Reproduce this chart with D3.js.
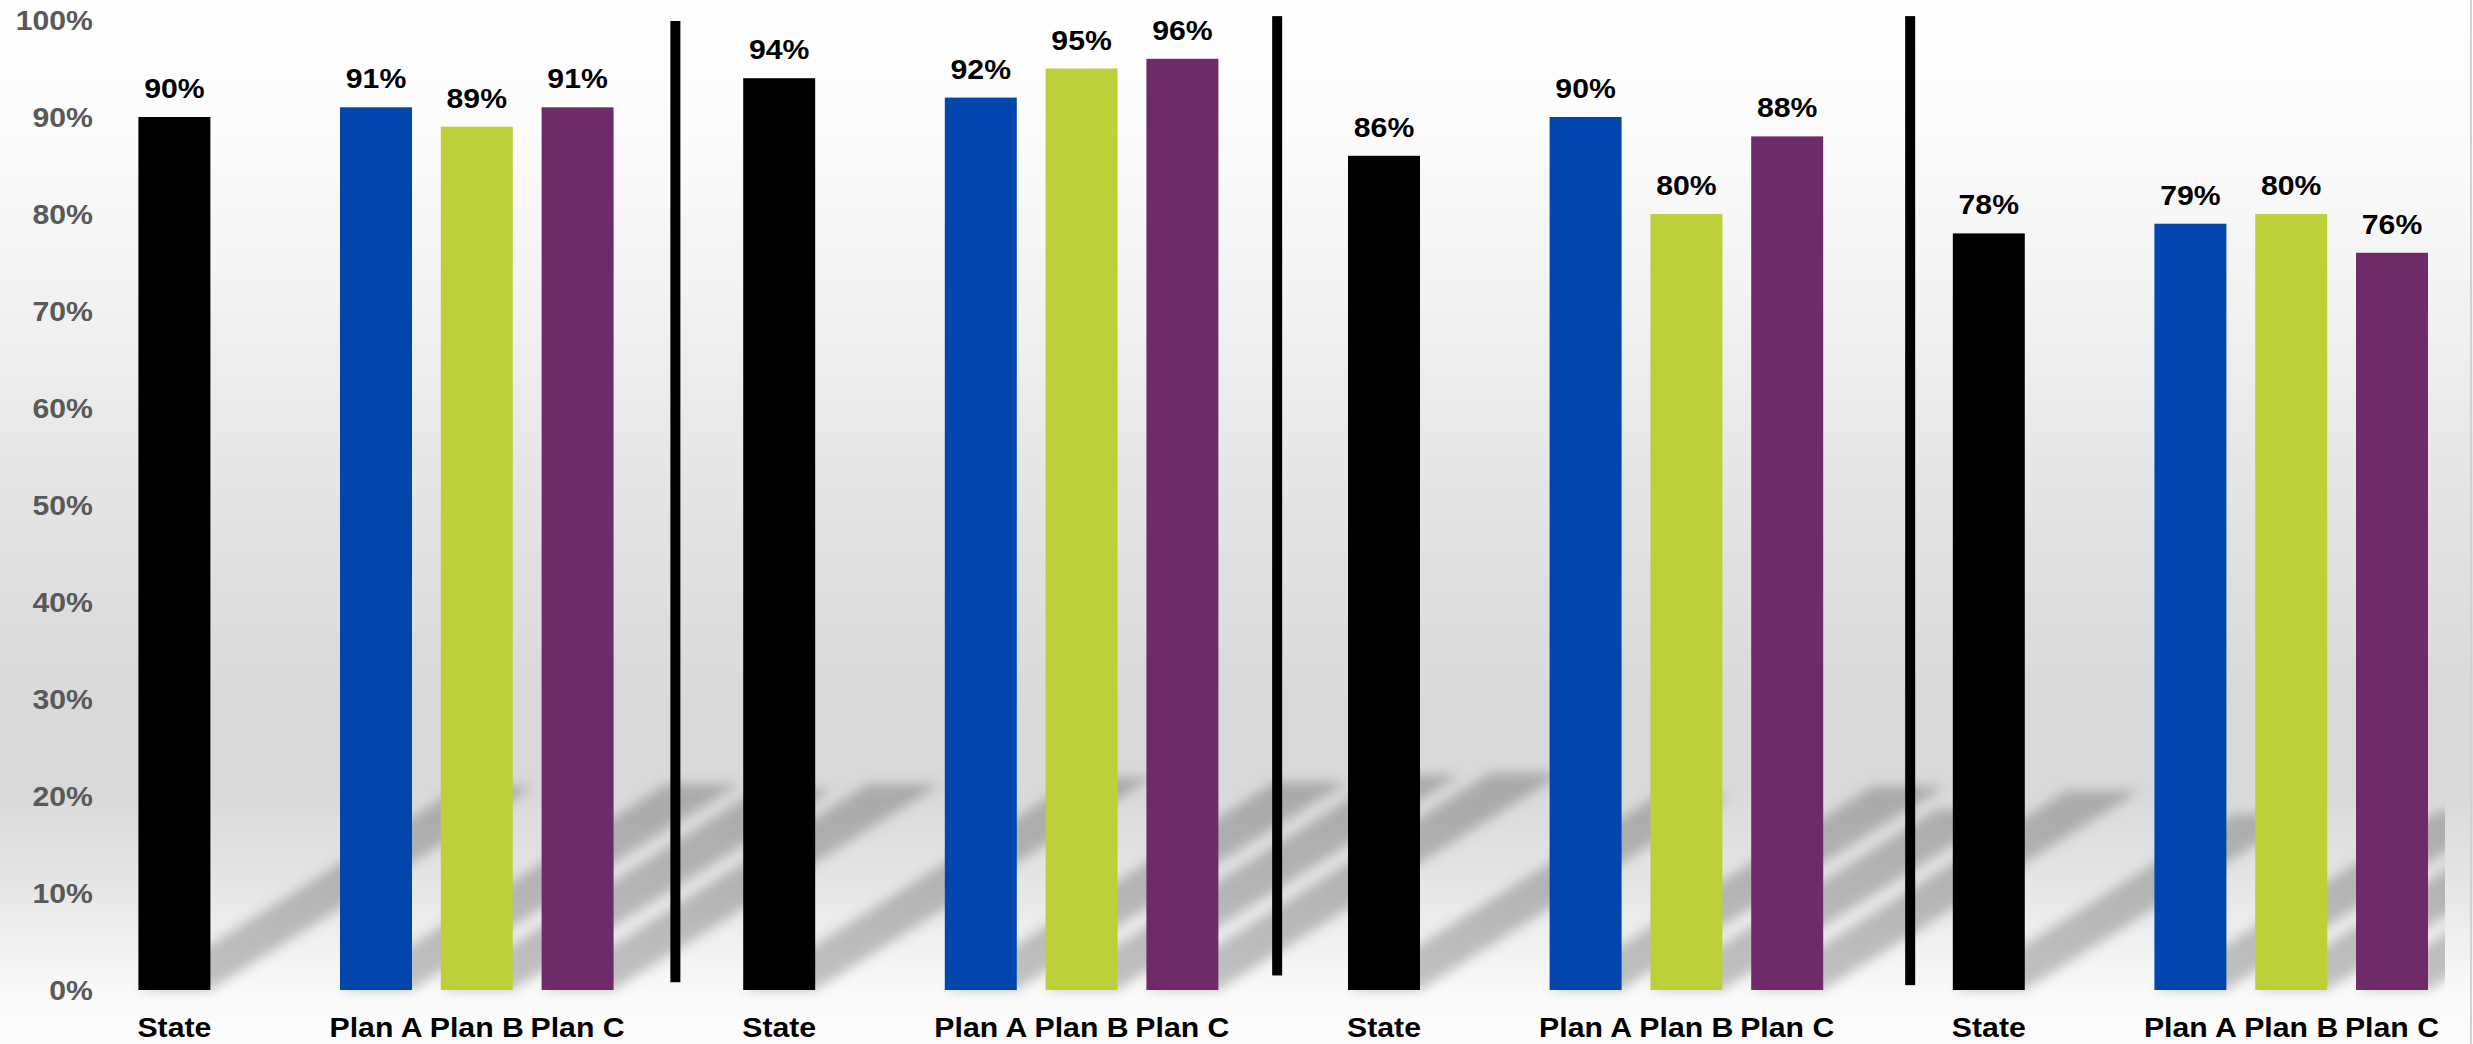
<!DOCTYPE html>
<html>
<head>
<meta charset="utf-8">
<script src="https://cdn.jsdelivr.net/npm/d3@7"></script>
<style>
  html, body { margin: 0; padding: 0; background: #ffffff; overflow: hidden; }
  svg { display: block; }
  text { font-family: "Liberation Sans", Arial, Helvetica, sans-serif; font-weight: bold; }
</style>
</head>
<body>
<svg id="chart" width="2473" height="1044"></svg>
<script>
// ---- data ----
const sections = [1, 2, 3, 4];
const series = ["State", "Plan A", "Plan B", "Plan C"];
const stateValues = [0.90, 0.94, 0.86, 0.78];
const planAValues = [0.91, 0.92, 0.90, 0.79];
const planBValues = [0.89, 0.95, 0.80, 0.80];
const planCValues = [0.91, 0.96, 0.88, 0.76];
const yTickValues = [0, 0.1, 0.2, 0.3, 0.4, 0.5, 0.6, 0.7, 0.8, 0.9, 1.0];
const yTickLabels = ["0%", "10%", "20%", "30%", "40%", "50%", "60%", "70%", "80%", "90%", "100%"];
const valueLabels = [
  ["90%", "94%", "86%", "78%"],
  ["91%", "92%", "90%", "79%"],
  ["89%", "95%", "80%", "80%"],
  ["91%", "96%", "88%", "76%"]
];
const seriesColors = ["#000000", "#0046AD", "#BDD03A", "#6E2B69"];

// ---- layout ----
const W = 2473, H = 1044;
const svg = d3.select("#chart");
const defs = svg.append("defs");

// each section: State, gap, Plan A, Plan B, Plan C, gap
const slotPattern = ["State", null, "Plan A", "Plan B", "Plan C", null];
const slots = [];
sections.forEach(s => slotPattern.forEach((p, i) => slots.push(`${s}|${p === null ? "gap" + i : p}`)));

const x = d3.scaleBand().domain(slots).range([124, 2543.2]).paddingInner(0.286).paddingOuter(0.143);
const y = d3.scaleLinear().domain([0, 1]).range([990, 20]);

const seriesValues = [stateValues, planAValues, planBValues, planCValues];
const bars = [];
sections.forEach((s, si) => series.forEach((name, k) => {
  bars.push({ key: `${s}|${name}`, name, value: seriesValues[k][si], label: valueLabels[k][si], color: seriesColors[k] });
}));

// background wash: white at the top, grey floor band, fading out at the baseline
const bg = defs.append("linearGradient").attr("id", "bgGrad")
  .attr("gradientUnits", "userSpaceOnUse").attr("x1", 0).attr("y1", 0).attr("x2", 0).attr("y2", H);
[[0, "#ffffff"], [120, "#fcfcfc"], [300, "#f2f2f2"], [500, "#e4e4e4"], [700, "#d9d9d9"],
 [790, "#d9d9d9"], [880, "#e5e5e5"], [960, "#f3f3f3"], [995, "#fafafa"], [1044, "#fcfcfc"]]
  .forEach(([p, c]) => bg.append("stop").attr("offset", p / H).attr("stop-color", c));
svg.append("rect").attr("width", W).attr("height", H).attr("fill", "url(#bgGrad)");
svg.append("line").attr("x1", W - 2).attr("x2", W - 2).attr("y1", 0).attr("y2", H)
  .attr("stroke", "#d2d2d2").attr("stroke-width", 2);

// soft perspective shadows cast up and to the right
defs.append("filter").attr("id", "shadowBlur").attr("x", "-20%").attr("y", "-20%").attr("width", "140%").attr("height", "140%")
  .append("feGaussianBlur").attr("stdDeviation", 6);
defs.append("clipPath").attr("id", "plotClip").append("rect").attr("x", 0).attr("y", 0).attr("width", 2445).attr("height", H);

const shadowRatio = 0.233, shadowSlope = 0.63;
const base = y(0);
svg.append("g").attr("clip-path", "url(#plotClip)")
  .append("g").attr("filter", "url(#shadowBlur)")
  .selectAll("path").data(bars).join("path")
  .attr("fill", "rgba(0,0,0,0.22)")
  .attr("d", d => {
    const x0 = x(d.key), w = x.bandwidth();
    const h = shadowRatio * (base - y(d.value));
    const dx = h / shadowSlope;
    return `M${x0},${base}L${x0 + w},${base}L${x0 + w + dx},${base - h}L${x0 + dx},${base - h}Z`;
  });

// section dividers
const dividerShift = [-0.03, -0.06, 0.22];
const dividerTop = [0.999, 1.004, 1.004];
const dividerBottom = [0.008, 0.015, 0.005];
svg.append("g").selectAll("rect").data(sections.slice(0, 3)).join("rect")
  .attr("x", (s, i) => x(`${s}|gap5`) + x.bandwidth() / 2 + dividerShift[i] * x.step() - 5)
  .attr("width", 10)
  .attr("y", (s, i) => y(dividerTop[i]))
  .attr("height", (s, i) => y(dividerBottom[i]) - y(dividerTop[i]))
  .attr("fill", "#000");

// bars
svg.append("g").selectAll("rect").data(bars).join("rect")
  .attr("x", d => x(d.key))
  .attr("width", x.bandwidth())
  .attr("y", d => y(d.value))
  .attr("height", d => y(0) - y(d.value))
  .attr("fill", d => d.color);

// text helper: slightly widened bold face
function drawText(g, data, fx, fy, txt, anchor, fill) {
  g.selectAll("text").data(data).join("text")
    .attr("transform", d => `translate(${fx(d)},${fy(d)}) scale(1.12,1)`)
    .attr("text-anchor", anchor)
    .attr("font-size", 27)
    .attr("fill", fill)
    .text(txt);
}

// value labels
drawText(svg.append("g"), bars, d => x(d.key) + x.bandwidth() / 2, d => y(d.value) - 19, d => d.label, "middle", "#000");

// category labels
drawText(svg.append("g"), bars, d => x(d.key) + x.bandwidth() / 2, () => 1037, d => d.name, "middle", "#000");

// y axis labels
const yAxisData = yTickValues.map((v, i) => ({ v, t: yTickLabels[i] }));
drawText(svg.append("g"), yAxisData, () => 93, d => y(d.v) + 9.7, d => d.t, "end", "#595959");
</script>
</body>
</html>
